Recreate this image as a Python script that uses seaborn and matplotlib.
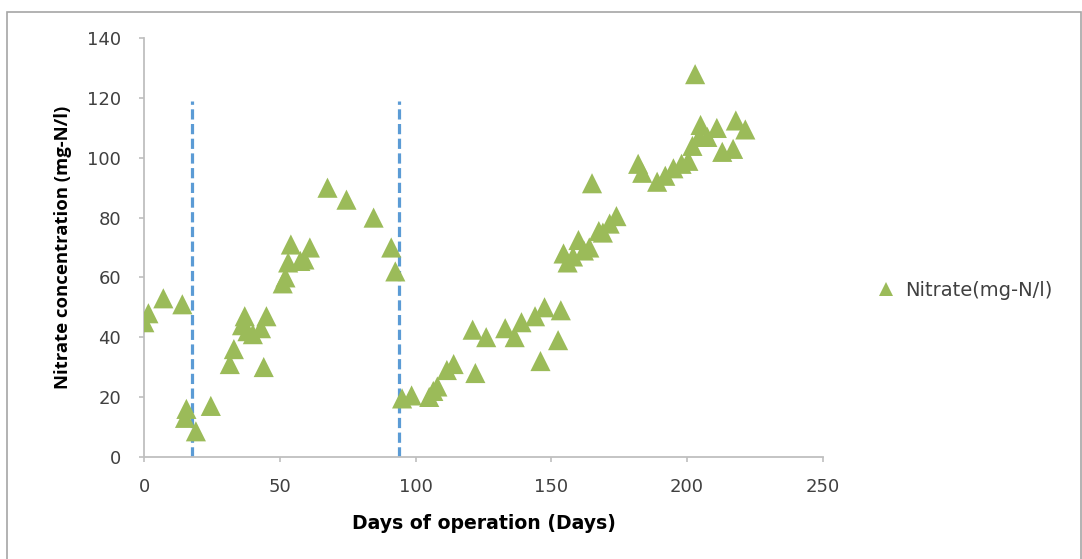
import matplotlib
matplotlib.use("Agg")
import matplotlib.pyplot as plt
import seaborn as sns
import pandas as pd
from matplotlib.patches import Rectangle

days = [0, 1.5, 7, 14, 15, 15.5, 19, 24.5, 31.5, 33, 36, 37, 38, 40, 43, 44, 45,
        51, 52, 53, 54, 57.5, 59, 61, 67.5, 74.5, 84.5, 91, 92.5,
        95, 98.5, 105, 106.5, 108, 111.5, 114, 121, 122, 126, 133, 136.5, 139,
        144, 146, 147.5, 152.5, 153.5, 154.5, 156, 158, 160, 162, 164, 165,
        167.5, 169, 171.5, 174, 182, 183.5, 189, 192, 195, 198, 200.5, 202,
        203, 204.5, 205, 207.5, 211, 213, 217, 218, 221.5]
nitrate = [45, 48, 53, 51, 13, 16, 8.5, 17, 31, 36, 44, 47, 42, 41, 43, 30, 47,
           58, 60, 65, 71, 65.5, 66, 70, 90, 86, 80, 70, 62,
           19.5, 20.5, 20, 22, 23.5, 29, 31, 42.5, 28, 40, 43, 40, 45,
           47, 32, 50, 39, 49, 68, 65, 67, 72.5, 69, 70, 91.5,
           75.5, 75, 78, 80.5, 98, 95, 92, 94, 96.5, 98, 99, 104,
           128, 107, 111, 107, 110, 102, 103, 112.5, 109.5]
phase_change_days = [17.5, 94]
phase_line_top = 119
series_name = "Nitrate(mg-N/l)"
x_label = "Days of operation (Days)"
y_label = "Nitrate concentration (mg-N/l)"
x_ticks = [0, 50, 100, 150, 200, 250]
y_ticks = [0, 20, 40, 60, 80, 100, 120, 140]

df = pd.DataFrame({"day": days, "nitrate": nitrate, "series": series_name})

sns.set_style("white")
plt.rcParams["font.family"] = ["DejaVu Sans"]

fig = plt.figure(figsize=(10.82, 5.59), dpi=100)
ax = fig.add_axes([0.1334, 0.183, 0.6269, 0.7485])

grey_txt = "#404040"
spine_c = "#BFBFBF"

ax.vlines(phase_change_days, 0, phase_line_top, colors="#5B9BD5", linewidth=2.3,
          linestyles=(0, (3.2, 1.4)), zorder=1)

sns.scatterplot(data=df, x="day", y="nitrate", hue="series", palette=["#9BBB59"],
                marker="^", s=210, edgecolor="none", linewidth=0, ax=ax, zorder=3)

ax.set_xlim(0, 250)
ax.set_ylim(0, 140)
ax.set_xticks(x_ticks)
ax.set_yticks(y_ticks)
ax.tick_params(axis="both", which="major", direction="out", length=3.6, width=1.2,
               color=spine_c, labelcolor=grey_txt, labelsize=13,
               bottom=True, left=True)
ax.tick_params(axis="y", pad=13)
ax.tick_params(axis="x", pad=12)
for side in ["top", "right"]:
    ax.spines[side].set_visible(False)
for side in ["left", "bottom"]:
    ax.spines[side].set_color(spine_c)
    ax.spines[side].set_linewidth(1.3)

ax.set_xlabel(x_label, fontsize=13.6, fontweight="bold", color="black", labelpad=13,
              family=["DejaVu Sans"])
ax.set_ylabel(y_label, fontsize=13.3, fontweight="bold", color="black", labelpad=11,
              family=["Open Sans", "DejaVu Sans"])

leg = ax.legend(loc="center left", bbox_to_anchor=(0.7845, 0.481),
                bbox_transform=fig.transFigure, frameon=False, fontsize=14.0,
                handletextpad=0.0, markerscale=0.72)
for t in leg.get_texts():
    t.set_color(grey_txt)

fig.patches.append(Rectangle((7 / 1082, -0.01), (1082 - 8) / 1082, 1 - 12 / 559 + 0.01,
                             transform=fig.transFigure, fill=False,
                             edgecolor="#A6A6A6", linewidth=1.2))

fig.savefig("out.png", dpi=100)
